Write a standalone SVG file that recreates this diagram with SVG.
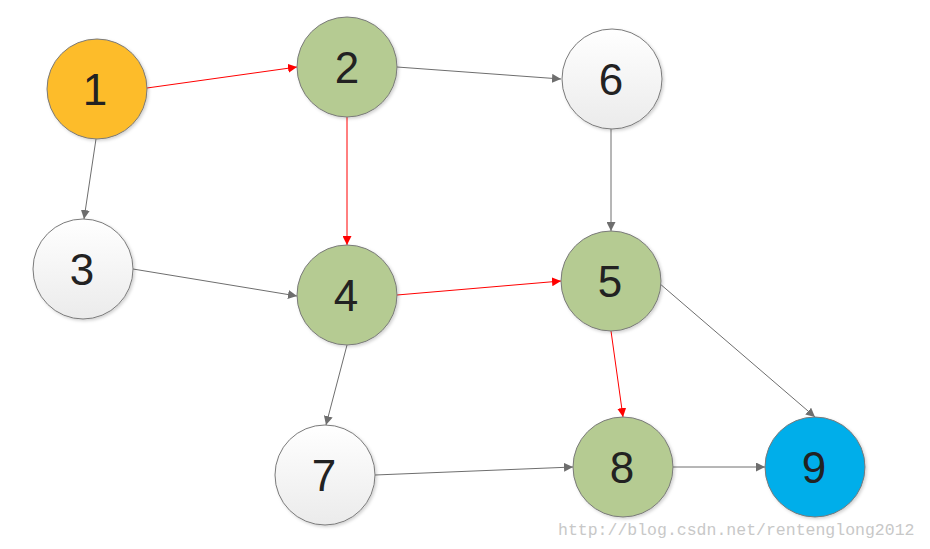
<svg xmlns="http://www.w3.org/2000/svg" width="930" height="549" viewBox="0 0 930 549">
<defs>
<linearGradient id="wg" x1="0" y1="0" x2="0" y2="1">
<stop offset="0" stop-color="#ffffff"/>
<stop offset="1" stop-color="#ebebeb"/>
</linearGradient>
<filter id="sh" x="-20%" y="-20%" width="140%" height="140%">
<feDropShadow dx="1.5" dy="1.5" stdDeviation="1.5" flood-color="#000" flood-opacity="0.18"/>
</filter>
<marker id="ag" viewBox="0 0 10 10" refX="10" refY="5" markerWidth="9" markerHeight="9" markerUnits="userSpaceOnUse" orient="auto">
<path d="M0,0 L10,5 L0,10 z" fill="#6e6e6e"/>
</marker>
<marker id="ar" viewBox="0 0 10 10" refX="10" refY="5" markerWidth="9" markerHeight="9" markerUnits="userSpaceOnUse" orient="auto">
<path d="M0,0 L10,5 L0,10 z" fill="#ff0000"/>
</marker>
</defs>
<style>
.n{stroke:#7a7a7a;stroke-width:1;filter:url(#sh)}
.w{fill:url(#wg)}
.g{fill:#b5cb92}
.o{fill:#fdbc2c}
.b{fill:#00aeea}
.t{font-family:"Liberation Sans","DejaVu Sans",sans-serif;font-size:44px;fill:#222;text-anchor:middle}
.eg{stroke:#6e6e6e;stroke-width:1;fill:none;marker-end:url(#ag)}
.er{stroke:#ff0000;stroke-width:1;fill:none;marker-end:url(#ar)}
.wm{font-family:"Liberation Mono","DejaVu Sans Mono",monospace;font-size:16.5px;fill:#c8c8c8}
</style>
<rect width="930" height="549" fill="#ffffff"/>
<g id="edges">
<line class="er" x1="147" y1="88" x2="297" y2="67"/>
<line class="eg" x1="96" y1="139" x2="84" y2="219"/>
<line class="eg" x1="397" y1="67" x2="561" y2="79"/>
<line class="er" x1="347" y1="117" x2="347" y2="245"/>
<line class="eg" x1="133" y1="269" x2="297" y2="296"/>
<line class="er" x1="397" y1="295" x2="561" y2="281"/>
<line class="eg" x1="347" y1="345" x2="326" y2="425"/>
<line class="eg" x1="611" y1="129" x2="611" y2="231"/>
<line class="er" x1="611" y1="331" x2="623" y2="417"/>
<line class="eg" x1="659" y1="283" x2="815" y2="417"/>
<line class="eg" x1="375" y1="475" x2="573" y2="467"/>
<line class="eg" x1="673" y1="467" x2="765" y2="467"/>
</g>
<g id="n1"><circle class="n o" cx="97" cy="89" r="50"/><text class="t" x="95" y="105">1</text></g>
<g id="n2"><circle class="n g" cx="347" cy="67" r="50"/><text class="t" x="347" y="83">2</text></g>
<g id="n6"><circle class="n w" cx="612" cy="79" r="50"/><text class="t" x="611" y="95">6</text></g>
<g id="n3"><circle class="n w" cx="83" cy="269" r="50"/><text class="t" x="82" y="285">3</text></g>
<g id="n4"><circle class="n g" cx="347" cy="295" r="50"/><text class="t" x="346" y="311">4</text></g>
<g id="n5"><circle class="n g" cx="611" cy="281" r="50"/><text class="t" x="610" y="297">5</text></g>
<g id="n7"><circle class="n w" cx="325" cy="475" r="50"/><text class="t" x="324" y="491">7</text></g>
<g id="n8"><circle class="n g" cx="623" cy="467" r="50"/><text class="t" x="622" y="483">8</text></g>
<g id="n9"><circle class="n b" cx="815" cy="467" r="50"/><text class="t" x="814" y="483">9</text></g>
<text class="wm" x="558" y="535">http://blog.csdn.net/rentenglong2012</text>
</svg>
